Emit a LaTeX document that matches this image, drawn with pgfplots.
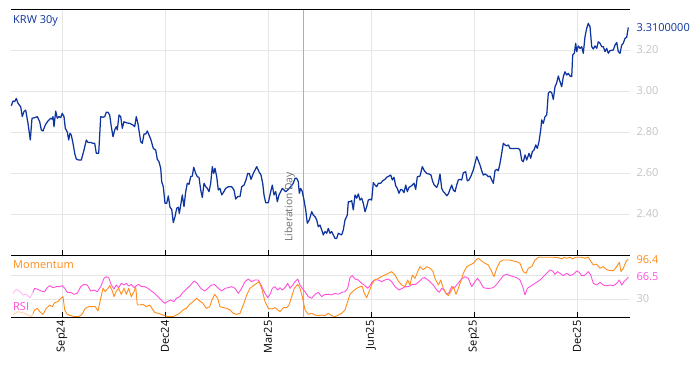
\documentclass[border=0pt]{standalone}
\usepackage{pgfplots}
\pgfplotsset{compat=1.18}
\usepackage{fontspec}
\setmainfont{Open Sans}
\definecolor{krw}{RGB}{14,52,160}
\definecolor{mom}{RGB}{255,140,26}
\definecolor{rsi}{RGB}{255,80,220}
\definecolor{gridc}{RGB}{230,230,230}
\definecolor{tickc}{RGB}{195,195,195}
\definecolor{libc}{RGB}{175,175,175}
\definecolor{libt}{RGB}{110,110,110}
\begin{document}
\begin{tikzpicture}[font=\fontsize{11}{13}\selectfont]
\useasboundingbox (0,0) rectangle (700pt,366pt);
\pgfplotsset{
  panel/.style={
    scale only axis, width=619pt, xmin=11, xmax=630, clip=false,
    axis line style={draw=none},
    xtick={62,165,268,371,474,577},
    grid=major, major grid style={gridc, line width=0.8pt},
    xtick pos=left, xtick align=inside, major tick length=5pt,
    x tick style={black, line width=0.8pt},
    ytick style={draw=none},
    yticklabel pos=right,
    yticklabel style={tickc, anchor=west, xshift=3pt},
    /pgf/number format/assume math mode=true,
  }
}
% ---------- top panel ----------
\begin{axis}[panel, at={(11pt,111pt)}, anchor=south west, height=246pt,
  ymin=2.2, ymax=3.4, ytick={2.4,2.6,2.8,3.0,3.2}, xticklabels={},
  yticklabel style={/pgf/number format/.cd, fixed, fixed zerofill, precision=2}]
\draw[libc, line width=0.8pt] (axis cs:303,2.2) -- (axis cs:303,3.4);
\addplot[krw, line width=1.25pt, line join=round] coordinates {
(11.3,2.928) (13,2.951) (14.7,2.948) (16.3,2.964) (18,2.940) (20.7,2.923) (22.3,2.875) (24,2.900) (25.7,2.907) (28,2.842)
(30.3,2.761) (32,2.867) (34.7,2.870) (37.3,2.875) (39.7,2.850) (41.3,2.810) (43,2.805) (45.3,2.834) (48,2.854) (50.7,2.867)
(52,2.863) (53,2.875) (54,2.826) (55.7,2.902) (57.3,2.867) (59,2.875) (60.7,2.870) (62.3,2.891) (64,2.875) (65.3,2.818)
(67.3,2.800) (68.7,2.761) (70,2.794) (71.3,2.785) (73,2.745) (74.7,2.696) (76.3,2.668) (78.7,2.663) (81.3,2.663) (84,2.712)
(86.3,2.761) (88,2.749) (90.7,2.749) (93,2.745) (94.7,2.745) (96.3,2.696) (98.7,2.696) (100.7,2.875) (103,2.872) (104.7,2.875)
(106.3,2.896) (108,2.896) (109.7,2.883) (111.3,2.826) (113,2.777) (114.7,2.810) (116.3,2.826) (117.3,2.810) (119,2.883) (120.7,2.875)
(122.3,2.818) (124,2.850) (126.3,2.845) (129.7,2.842) (133,2.834) (134.7,2.826) (136.3,2.875) (138,2.840) (140.7,2.753) (142.3,2.745)
(144,2.790) (145.7,2.790) (147.3,2.805) (149,2.785) (151,2.761) (153.3,2.720) (155.7,2.712) (157.3,2.667) (159,2.655) (160.7,2.623)
(161.7,2.558) (163.3,2.533) (165,2.452) (166.7,2.452) (168.3,2.488) (170,2.433) (171.7,2.423) (173.3,2.358) (175,2.387) (176.7,2.428)
(178.3,2.433) (179.3,2.403) (181,2.452) (182.3,2.493) (184,2.436) (185.7,2.509) (187.3,2.550) (189,2.545) (190.7,2.582) (192.3,2.585)
(193.7,2.628) (195.7,2.598) (197.3,2.582) (199,2.579) (200.7,2.517) (202.3,2.481) (204,2.550) (205.7,2.533) (207.3,2.525) (209,2.509)
(210.7,2.550) (212.3,2.631) (213.7,2.598) (215,2.623) (216.7,2.582) (218.3,2.517) (220,2.525) (221.7,2.493) (223.3,2.504) (225.7,2.525)
(228.3,2.533) (231.7,2.533) (234,2.517) (235.7,2.473) (237.7,2.485) (240,2.485) (241.7,2.533) (244,2.541) (246,2.566) (247.7,2.598)
(249.3,2.598) (251,2.569) (253.3,2.598) (256.7,2.631) (259,2.606) (261,2.590) (262.7,2.550) (264,2.493) (265.7,2.455) (268.3,2.455)
(270.7,2.509) (272.3,2.541) (274,2.493) (275.7,2.509) (277.3,2.460) (279,2.493) (280.7,2.509) (282.3,2.525) (284,2.517) (285.7,2.509)
(288.3,2.520) (290.7,2.533) (293.3,2.550) (295,2.574) (296.7,2.574) (298.3,2.558) (299.3,2.501) (300.7,2.525) (302.3,2.509) (304,2.468)
(305.7,2.420) (307.3,2.355) (309.3,2.371) (311.7,2.411) (313.3,2.395) (315,2.387) (316.7,2.371) (318.3,2.338) (320,2.346) (321.7,2.322)
(323.3,2.298) (325,2.314) (326.7,2.306) (328.3,2.330) (330,2.306) (331.7,2.314) (333.3,2.298) (335,2.281) (336.7,2.281) (338.3,2.306)
(340,2.302) (341.7,2.298) (343.3,2.322) (345,2.371) (347.3,2.395) (348.3,2.460) (350,2.460) (351.7,2.465) (353.3,2.420) (355,2.493)
(356.7,2.477) (358.3,2.498) (360,2.468) (361.7,2.477) (363.3,2.452) (365,2.411) (366.7,2.436) (368.3,2.468) (370,2.472) (371.7,2.468)
(373.3,2.553) (375,2.541) (376.7,2.533) (378.3,2.550) (380.7,2.550) (382.7,2.562) (385,2.569) (386.7,2.579) (389,2.585) (390.7,2.590)
(392.3,2.566) (394,2.579) (395.7,2.537) (397.3,2.525) (399,2.501) (400.7,2.520) (402.3,2.517) (404,2.504) (405.7,2.541) (407.3,2.509)
(409,2.530) (411.7,2.538) (414,2.550) (415.7,2.520) (417.3,2.582) (420,2.585) (422.3,2.631) (424.3,2.611) (426.7,2.598) (429,2.595)
(431,2.590) (432.7,2.558) (434.3,2.541) (436.7,2.530) (438.3,2.550) (440,2.595) (441.7,2.525) (443.3,2.509) (445,2.501) (446.7,2.489)
(448.3,2.498) (450,2.520) (451.7,2.541) (453.3,2.517) (455,2.509) (456.7,2.541) (458.3,2.566) (460,2.569) (461.7,2.566) (463.3,2.601)
(465.7,2.606) (467.3,2.562) (469,2.566) (471,2.585) (473.3,2.615) (475,2.647) (476.7,2.680) (478.3,2.660) (480,2.639) (481.7,2.611)
(483.3,2.590) (485,2.595) (486.7,2.590) (488.3,2.582) (490,2.585) (491.7,2.566) (493.3,2.550) (495,2.611) (496.7,2.618) (498.3,2.611)
(500,2.647) (501.7,2.696) (503.3,2.745) (505,2.737) (506.7,2.732) (508.3,2.737) (510,2.720) (513.3,2.720) (518.3,2.720) (520,2.712)
(521.7,2.663) (523.3,2.655) (525,2.688) (526.7,2.663) (529,2.696) (530.7,2.672) (532.3,2.704) (534,2.712) (535.7,2.737) (537.3,2.720)
(539,2.753) (540.7,2.810) (541.7,2.859) (543.3,2.842) (545,2.875) (546.7,2.883) (548.3,2.989) (550,2.997) (551.7,2.992) (553.3,2.959)
(555,3.021) (556.7,3.040) (558.3,3.073) (560,3.045) (561.7,3.021) (563.3,3.070) (565,3.094) (566.7,3.078) (568.3,3.086) (570,3.073)
(571.7,3.070) (572.7,3.176) (574.3,3.184) (575.7,3.233) (576.7,3.192) (578.3,3.220) (580,3.208) (581.7,3.216) (583.3,3.184) (585,3.265)
(586.7,3.306) (588.3,3.330) (590,3.314) (591.7,3.216) (593.3,3.205) (595,3.220) (596.7,3.208) (598.3,3.240) (600,3.233) (601.7,3.216)
(603.3,3.216) (605,3.192) (606.7,3.208) (608.3,3.184) (610,3.197) (613.3,3.200) (615,3.224) (616.7,3.237) (618.3,3.192) (620,3.184)
(621.7,3.224) (623.3,3.233) (625,3.257) (626.7,3.262) (628.3,3.310)
};
\node[rotate=90, anchor=south west, text=libt, font=\fontsize{10.3}{12}\selectfont, inner sep=1pt] at (axis cs:296,2.2585) {Liberation Day};
\draw[black, line width=0.8pt] (rel axis cs:0,0) -- (rel axis cs:1,0);
\draw[black, line width=0.8pt] (rel axis cs:0,1) -- (rel axis cs:1,1);
\node[krw, anchor=north west, fill=white, inner xsep=2pt, inner ysep=4pt, yshift=-2pt] at (rel axis cs:0,1) {KRW 30y};
\node[krw, anchor=west, xshift=3pt] at (axis cs:630,3.31) {3.3100000};
\end{axis}
% ---------- lower panel ----------
\begin{axis}[panel, at={(11pt,49pt)}, anchor=south west, height=62pt,
  ymin=0, ymax=103.3, ytick={30,70}, yticklabels={30,},
  xticklabels={Sep24,Dec24,Mar25,Jun25,Sep25,Dec25},
  xticklabel style={rotate=90, anchor=east, black}]
\draw[libc, line width=0.8pt] (axis cs:303,0) -- (axis cs:303,103.3);
\addplot[rsi, line width=0.9pt, line join=round] coordinates {
(13,39.5) (16.3,46) (19.7,43) (23,36.7) (26.3,37.8) (29.7,32) (32,37.8) (34.7,47.8) (38,46) (41.3,43)
(44.7,42.2) (47.3,48.9) (49.7,52.2) (53,48.9) (56.3,50.6) (59.7,50.6) (62.3,52.2) (64.7,47.8) (67.3,41.1) (70.7,41.1)
(74,37.8) (77.3,39.5) (80.7,50.6) (84,54.4) (87.3,53.3) (90.7,43.3) (94,45) (97.3,42.2) (100.7,50.6) (104,64.4)
(106.3,67.2) (108.7,65.6) (111.3,53.3) (114,46.7) (116.3,53.3) (118.7,48.9) (121.3,56.1) (124,53.3) (126.3,56.1) (128.7,51.7)
(131.3,54.4) (134,48.9) (136.3,52.2) (138.7,54.4) (141.3,50.6) (144.7,50.6) (148,47.8) (151.3,43.3) (154.7,39.4) (158,33.9)
(161.3,28.3) (164.7,22.8) (167.3,25.6) (170.7,28.3) (174,25.6) (176.3,31.1) (179.7,33.9) (183,41.1) (187.3,47.8) (190.7,53.3)
(194,60) (197.3,56.1) (200.7,47.8) (204.7,43.3) (208,47.8) (211.3,53.3) (214.7,54) (218.3,47.8) (221.7,43.3) (225,47.8)
(228.3,48.9) (231.7,50.6) (235,47.8) (238.3,39.4) (241.7,47.8) (245,58.9) (248.3,63.3) (251.7,58.9) (255,61.7) (258.3,61.7)
(261.7,50.6) (265,39.4) (267.7,32.2) (270,37.8) (272.3,47.8) (275,50.6) (277.7,45) (280,48.9) (282.3,45) (285,48.9)
(287.7,56.1) (290,47.8) (292.3,52.2) (295,58.9) (297.7,63.3) (300,53.3) (302.3,47.8) (305,42.2) (308.3,33.9) (311.7,31.1)
(315,37.8) (318.3,41.1) (321.7,33.9) (325,37.8) (328.3,37.8) (331.7,36.7) (335,39.4) (338.3,37.8) (341.7,41.1) (345,42.2)
(347.7,47.8) (350,65.6) (352.3,68.9) (355,63.3) (358.3,61.7) (361.7,56.1) (365,52.2) (367.7,47.8) (370,52.2) (372.3,58.9)
(375,61.7) (378.3,61.7) (381.7,58.9) (385,61.7) (388.3,63.3) (391.7,58.9) (395,50.6) (399,45) (402.3,47.8) (405.7,50.6)
(409,50.6) (412.3,54.4) (415.7,54.4) (419,58.9) (422.3,64.4) (424.5,65.6) (426.7,63.3) (430,58.9) (433.3,53.3) (436.7,45)
(439.3,41.1) (441.7,47.8) (444,45) (446.7,37.8) (449.3,41.1) (451.7,50.6) (454,47.8) (456.7,53.3) (459.3,58.9) (461.7,63.3)
(465,67.2) (468.3,64.4) (471.7,50.6) (475,58.9) (477.3,64.4) (480,58.9) (483.3,48.9) (486.7,47.8) (490,47.8) (493.3,48.9)
(496.7,54.4) (500,61.7) (503.3,68.9) (506.7,71.1) (510,68.9) (513.3,67.2) (516.7,65.6) (520,61.7) (522.7,50.6) (525,36.7)
(527.3,47.8) (530,50.6) (533.3,54.4) (536.7,57.8) (540,61.7) (543.3,67.2) (546.7,72.8) (550,78.3) (552.7,76.7) (555,71.1)
(557.3,75.6) (560,72.8) (563.3,68.9) (566.7,72.8) (570,68.9) (573.3,71.1) (576.7,76.7) (579.3,74.4) (581.7,68.9) (584,68.9)
(586.7,72.8) (588.3,75.6) (590.7,70) (593.3,56.1) (596.7,53.3) (600,57.8) (603.3,53.3) (606.7,52.2) (610,53.3) (613.3,52.2)
(616.7,56.1) (619.3,61.7) (621.7,53.3) (624,58.9) (626.7,63.3) (628.3,66.5)
};
\addplot[mom, line width=0.9pt, line join=round] coordinates {
(13,3.3) (18,8.9) (24.7,6.1) (31.3,0.5) (34.7,11.7) (37.3,14.4) (39.7,8.9) (43,4.4) (46.3,14.4) (49.7,20)
(52.3,17.2) (54.7,23.9) (58,25.6) (60.7,31.1) (63,33.9) (64.7,11.7) (67.3,4.4) (70.7,2.2) (74.7,0.5) (78.7,0.5)
(82,4.4) (85.3,14.4) (88.7,17.2) (92,17.2) (95.3,17.2) (98,10) (100.7,31.1) (103,47.8) (105.3,42.2) (108,47.8)
(109.7,52.2) (112,45) (114,33.9) (116.3,43.3) (118.7,47.8) (121.3,37.8) (124,47.8) (126.3,37.8) (128.7,47.8) (131.3,33.9)
(134,42.2) (135.7,50.6) (137.3,20) (139.7,20) (143,21.1) (146.3,17.2) (149.7,20) (152,14.4) (154.7,7.8) (158,6.1)
(161.3,4.4) (164.7,2.2) (168,0.5) (173,0.5) (176.3,3.3) (179.7,6.1) (183,11.7) (186.3,14.4) (189.7,21.1) (193,25.6)
(196.3,31.1) (199.7,26.7) (203,22.8) (206.3,14.4) (209.7,17.2) (212,28.3) (214.7,37.8) (217.7,31.1) (220,17.2) (223.3,15.6)
(226.7,14.4) (230,11.7) (233.3,6.1) (236.7,4.4) (240,6.1) (243.3,20) (246.7,36.7) (250,47.8) (253.3,52.2) (256.7,56.1)
(259,58.9) (261.7,47.8) (265,25.6) (268.3,14.4) (271.7,13.3) (275,15.6) (277.7,11.7) (280,8.9) (283.3,15.6) (286.7,15.6)
(289,20) (291.7,33.9) (294.3,47.8) (297.7,54.4) (300,47.8) (302.3,33.9) (305,11.7) (308.3,4.4) (311.7,6.1) (315,3.3)
(318.3,2.2) (321.7,3.3) (325,2.2) (328.3,6.1) (331.7,2.2) (335,0.5) (338.3,3.3) (341.7,6.1) (345,11.7) (347.7,25.6)
(350,37.8) (353.3,43.3) (356.7,47.8) (360,50.6) (362.3,50.6) (364.3,39.4) (366.7,32.2) (369,42.2) (371.7,53.3) (374.3,61.7)
(377.7,63.3) (381,67.2) (385,70) (388.3,72.8) (391.7,75.6) (395,70) (398.3,60) (401.7,53.3) (405,50.6) (407.7,61.7)
(410,53.3) (412.3,70) (415,64.4) (417.7,75.6) (420,83.9) (423.3,78.9) (426.7,83.9) (430,81.1) (432.7,76.7) (435,64.4)
(438.3,53.3) (440.7,61.7) (443.3,47.8) (446,39.4) (448.3,35.6) (450.7,42.2) (453.3,50.6) (456,37.8) (458.3,47.8) (460.7,58.9)
(463.3,72.8) (466.7,83.9) (470,86.7) (473.3,89.4) (476,95) (478.3,97.8) (481.7,93.3) (485,89.4) (488.3,86.7) (491.7,75.6)
(494,67.2) (496.7,81.1) (500,92.2) (503.3,95) (506.7,95) (510,95) (513.3,93.3) (516.7,92.2) (520,89.4) (523.3,75.6)
(526,72.8) (528.3,81.1) (531.7,83.9) (535,95) (538.3,99.5) (543.3,99.5) (548.3,99.5) (553.3,99.5) (558.3,98.9) (561.7,96.7)
(564,99.5) (566.7,97.8) (570,99.5) (572.7,96.7) (575,99.5) (578.3,99.5) (581.7,99.5) (585,97.8) (588.3,99.5) (590.7,93.3)
(593.3,86.7) (596.7,87.8) (600,81.1) (603.3,83.9) (606.7,78.9) (610,77.2) (613.3,77.2) (616.7,83.9) (619.3,91.1) (621,75.6)
(623.3,81.1) (626,92.2) (628.3,96.4)
};
\fill[white, opacity=0.6] (axis cs:11,0) rectangle (axis cs:33,57);
\node[rsi, anchor=base west, inner sep=0pt, xshift=2pt] at (axis cs:11,11) {RSI};
\node[mom, anchor=north west, fill=white, inner sep=2pt, yshift=-3pt] at (rel axis cs:0,1) {Momentum};
\draw[black, line width=0.8pt] (rel axis cs:0,0) -- (rel axis cs:1,0);
\draw[black, line width=0.8pt] (rel axis cs:0,1) -- (rel axis cs:1,1);
\node[mom, anchor=west, xshift=3pt] at (axis cs:630,96.4) {96.4};
\node[rsi, anchor=west, xshift=3pt] at (axis cs:630,66.5) {66.5};
\end{axis}
\end{tikzpicture}
\end{document}
